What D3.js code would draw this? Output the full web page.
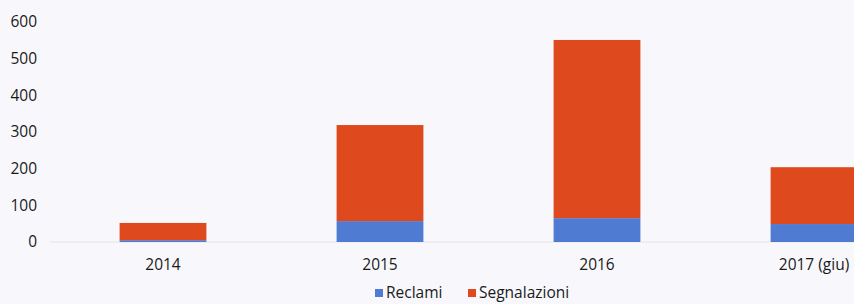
<!DOCTYPE html>
<html>
<head>
<meta charset="utf-8">
<script src="https://cdn.jsdelivr.net/npm/d3@7"></script>
<style>
  body { margin: 0; background: #f8f8fc; }
  svg { display: block; font-family: "Open Sans", sans-serif; }
</style>
</head>
<body>
<div id="chart"></div>
<script>
// Data
const years = ["2014", "2015", "2016", "2017 (giu)"];
const reclami = [5, 57, 65, 49];
const segnalazioni = [47, 262, 486, 155];
const seriesNames = ["Reclami", "Segnalazioni"];
const yTicks = [0, 100, 200, 300, 400, 500, 600];

const width = 854;
const height = 304;
const colors = { Reclami: "#4f7bd3", Segnalazioni: "#de4a1d" };
const textColor = "#1a1a1a";

const svg = d3
  .select("#chart")
  .append("svg")
  .attr("width", width)
  .attr("height", height);

// Build rows for the stack
const rows = years.map((y, i) => ({
  year: y,
  Reclami: reclami[i],
  Segnalazioni: segnalazioni[i],
}));
const stacked = d3.stack().keys(seriesNames)(rows);

// Scales (the band continues past the right edge, as in the original)
const x = d3
  .scaleBand()
  .domain(years)
  .range([54.5, 922.5])
  .paddingInner(0.6)
  .paddingOuter(0.3);

const y = d3.scaleLinear().domain([0, 600]).range([242, 22]);

// Baseline
svg
  .append("line")
  .attr("x1", 50)
  .attr("x2", width)
  .attr("y1", y(0))
  .attr("y2", y(0))
  .attr("stroke", "#e2e2e8")
  .attr("stroke-width", 1);

// Y axis labels
const yAxis = d3.axisLeft(y).tickValues(yTicks).tickSize(0).tickPadding(0);
svg
  .append("g")
  .attr("transform", "translate(37,0)")
  .call(yAxis)
  .call((g) => g.select(".domain").remove())
  .selectAll("text")
  .attr("font-size", 15.5)
  .attr("fill", textColor)
  .attr("font-family", "Open Sans, sans-serif");

// X axis labels
const xAxis = d3.axisBottom(x).tickSize(0).tickPadding(0);
svg
  .append("g")
  .attr("transform", "translate(0,259)")
  .call(xAxis)
  .call((g) => g.select(".domain").remove())
  .selectAll("text")
  .attr("font-size", 15.5)
  .attr("fill", textColor)
  .attr("font-family", "Open Sans, sans-serif");

// Bars
svg
  .selectAll("g.series")
  .data(stacked)
  .enter()
  .append("g")
  .attr("class", "series")
  .attr("fill", (d) => colors[d.key])
  .selectAll("rect")
  .data((d) => d)
  .enter()
  .append("rect")
  .attr("x", (d) => x(d.data.year))
  .attr("width", x.bandwidth())
  .attr("y", (d) => y(d[1]))
  .attr("height", (d) => y(d[0]) - y(d[1]));

// Legend
const legend = svg.append("g").attr("transform", "translate(375,293)");
const legendX = [0, 93];
seriesNames.forEach((name, i) => {
  const g = legend.append("g").attr("transform", `translate(${legendX[i]},0)`);
  g.append("rect")
    .attr("x", 0)
    .attr("y", -4)
    .attr("width", 8)
    .attr("height", 8)
    .attr("fill", colors[name]);
  g.append("text")
    .attr("x", 11)
    .attr("y", 0)
    .attr("dy", "0.35em")
    .attr("font-size", 15.5)
    .attr("fill", textColor)
    .text(name);
});
</script>
</body>
</html>
